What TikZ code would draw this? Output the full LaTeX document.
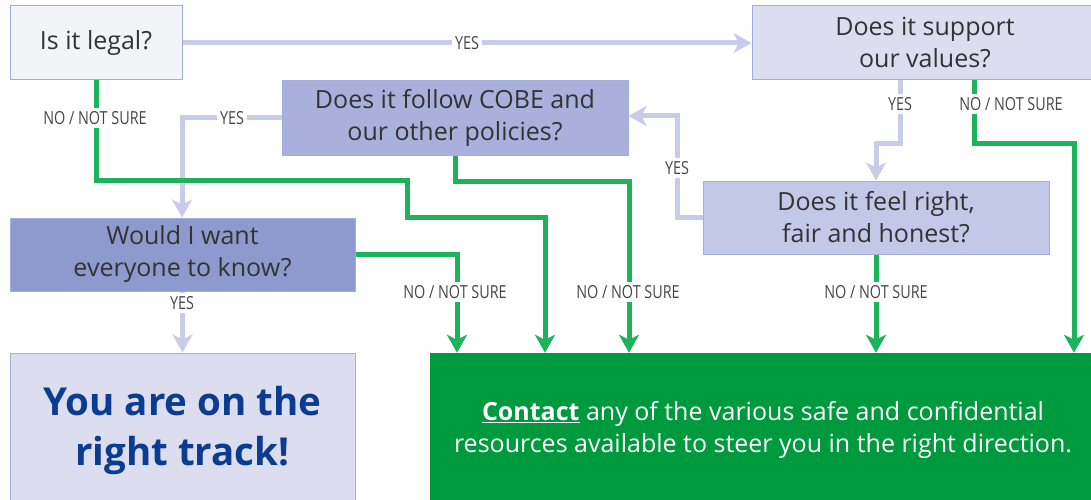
\documentclass[tikz,border=0pt]{standalone}
\usepackage{fontspec}
\setmainfont{Open Sans}
\newfontfamily\labelfont[FakeStretch=0.8]{Open Sans}
\usetikzlibrary{arrows.meta}
\definecolor{txt}{HTML}{333333}
\definecolor{lgray}{HTML}{F3F4F8}
\definecolor{pale}{HTML}{DCDEF0}
\definecolor{mid}{HTML}{AAB0DC}
\definecolor{midl}{HTML}{C3C7E8}
\definecolor{dark}{HTML}{8E99CD}
\definecolor{bord}{HTML}{A3ADD9}
\definecolor{yesln}{HTML}{C8CBE9}
\definecolor{noln}{HTML}{1DB35A}
\definecolor{gbox}{HTML}{009A3E}
\definecolor{navy}{HTML}{0A3D91}
\begin{document}
\begin{tikzpicture}[x=1pt,y=-1pt,
  qbox/.style={draw=bord,line width=1pt,inner sep=0pt,align=center,text=txt,
    font=\fontsize{25}{32}\selectfont},
  yesarrow/.style={draw=yesln,line width=5pt,-{Stealth[length=18pt,width=20pt,inset=5pt]}},
  noarrow/.style={draw=noln,line width=5pt,-{Stealth[length=18pt,width=20pt,inset=5pt]}},
  lbl/.style={fill=white,inner sep=3pt,text=txt!90,font=\labelfont\fontsize{18}{19}\selectfont}]
\useasboundingbox (0,0) rectangle (1091,500);
\clip (0,0) rectangle (1091,500);
% boxes
\node[qbox,fill=lgray,minimum width=172pt,minimum height=74pt] (legal) at (96,43) {Is it legal?};
\node[qbox,fill=pale,minimum width=346pt,minimum height=74pt] (support) at (925,43) {Does it support\\our values?};
\node[qbox,fill=mid,minimum width=346pt,minimum height=74pt] (cobe) at (455,118) {Does it follow COBE and\\our other policies?};
\node[qbox,fill=midl,minimum width=346pt,minimum height=73pt] (feel) at (876,217.5) {Does it feel right,\\fair and honest?};
\node[qbox,fill=dark,minimum width=345pt,minimum height=73pt] (would) at (182.5,254.5) {Would I want\\everyone to know?};
\node[qbox,fill=pale,minimum width=345pt,minimum height=154pt,text=navy,
  font=\bfseries\fontsize{38.5}{50}\selectfont] (track) at (182.5,430) {You are on the\\right track!};
\node[fill=gbox,draw=none,inner sep=0pt,minimum width=666pt,minimum height=154pt,
  text=white,align=center,font=\fontsize{25}{32}\selectfont] (contact) at (763,430)
  {\textbf{\underline{Contact}} any of the various safe and confidential\\resources available to steer you in the right direction.};
% YES connectors
\draw[yesarrow] (legal.east) -- (support.west);
\node[lbl] (l1) at (467,43) {YES};
\draw[yesarrow] (cobe.west) -| (182,0 |- would.north);
\node[lbl] (l2) at (232,118) {YES};
\draw[yesarrow] (would.south) -- (track.north);
\node[lbl] (l3) at (182,303) {YES};
\draw[yesarrow] (900,0 |- support.south) |- (876,143) -- (feel.north);
\node[lbl] (l4) at (900,104) {YES};
\draw[yesarrow] (feel.west) -| (677,116) -- (cobe.east |- 0,116);
\node[lbl] (l5) at (677,168) {YES};
% NO connectors
\draw[noarrow] (legal.south) |- (407,180) |- (545,217) -- (545,0 |- contact.north);
\node[lbl] (n1) at (95,118) {NO / NOT SURE};
\draw[noarrow] (would.east) -| (457,0 |- contact.north);
\node[lbl] (n2) at (455,292) {NO / NOT SURE};
\draw[noarrow] (cobe.south) |- (629,181) -- (629,0 |- contact.north);
\node[lbl] (n3) at (628,292) {NO / NOT SURE};
\draw[noarrow] (feel.south) -- (876,0 |- contact.north);
\node[lbl] (n4) at (876,292) {NO / NOT SURE};
\draw[noarrow] (974,0 |- support.south) |- (1074,143) -- (1074,0 |- contact.north);
\node[lbl] (n5) at (1011,104) {NO / NOT SURE};
\end{tikzpicture}
\end{document}
